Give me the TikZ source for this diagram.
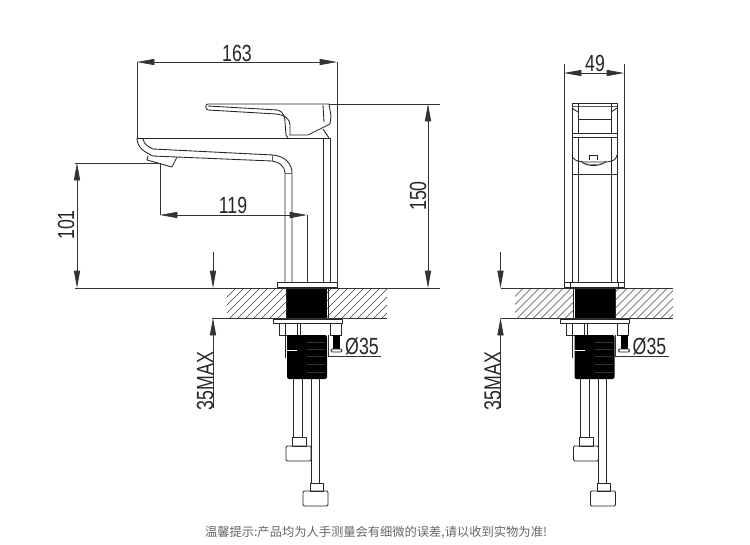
\documentclass[tikz,border=0pt]{standalone}
\usepackage{fontspec}
\usepackage{xcolor}
\usetikzlibrary{arrows.meta, calc}
\newfontfamily\dimfont[FakeStretch=0.76]{Liberation Sans}
\newfontfamily\cjkfont{Noto Sans CJK SC}
\tikzset{
  part/.style={line width=0.65pt, draw=black!85, line join=round},
  thin part/.style={line width=0.4pt, draw=black!65},
  dimline/.style={line width=0.5pt, draw=black!80},
  dim both/.style={dimline, {Triangle[length=13pt,width=4.6pt]}-{Triangle[length=13pt,width=4.6pt]}},
  dim end/.style={dimline, -{Triangle[length=13pt,width=4.6pt]}},
  dimtext/.style={font=\dimfont\fontsize{17.5}{18}\selectfont, inner sep=0pt, text=black!85},
  hatchline/.style={line width=0.4pt, draw=black!75},
}
\begin{document}
\begin{tikzpicture}[x=0.75pt, y=-0.75pt]
  \useasboundingbox (0,0) rectangle (750,544);

  % mounting parts, same for both views
  \foreach \dx/\leftend/\rightend in {0/227/387, 287.5/227.5/385.5} {
    \begin{scope}[shift={(\dx,0)}]
      \begin{scope}
        \clip (\leftend,288) rectangle (286,318) (327,288) rectangle (\rightend,318);
        \foreach \hx in {190,198,...,390}
          \draw[hatchline] (\hx,318) -- (\hx+30,288);
      \end{scope}
      \draw[part] (286,288) -- (286,318) (328,288) -- (328,318);
      \fill[black] (287,288) rectangle (327,318);
      \draw[part, fill=white] (273,319) rectangle (342,323);
      \draw[part] (279,323) -- (279,335) -- (300,335) -- (300,323);
      \draw[part] (285,323) -- (285,358);
      \draw[part] (297,323) -- (297,335);
      \draw[part] (330,323) -- (330,335) -- (341,335) -- (341,323);
      \fill[black, rounded corners=1.5pt] (287,335) -- (327,335) -- (327,379) -- (287,379) -- cycle;
      \foreach \sy in {342,349,356,364,372}
        \draw[white, opacity=0.2, line width=0.3pt] (307,\sy) -- (325,\sy);
      \draw[white, line width=0.5pt] (287,350) -- (297,350);
      \fill[black] (333,335) rectangle (340,349);
      \draw[part, fill=white, rounded corners=1pt] (331,349) rectangle (342,352);
      \draw[part] (293,379) -- (293,437) (302,379) -- (302,437);
      \draw[part] (311,379) -- (311,483) (319,379) -- (319,483);
      \draw[part] (292,437) rectangle (306,446);
      \draw[part, rounded corners=1pt] (286,446) rectangle (311,461);
      \draw[part] (310,483) rectangle (323,491);
      \draw[part, rounded corners=1pt] (303,491) rectangle (328,506);
      \draw[dimline] (328,335) -- (328,356) -- (381,356);
      \node[dimtext] (dia\dx) at (362,346) {Ø35};
    \end{scope}
  }

  % side view, body and spout
  \draw[part] (137,138) -- (330,138);
  \draw[part] (137,138) .. controls (137,146) and (142,151) .. (153,156);
  \draw[part] (143,139) .. controls (144,144) and (148,147) .. (153,149);
  \draw[part] (153,149) -- (273,155) .. controls (284,156) and (292,163) .. (292,173) -- (292,282);
  \draw[part] (153,156) -- (272,161) .. controls (279,162) and (285,166) .. (285,173) -- (285,282);
  \draw[thin part] (272,155) -- (272,161) (285,173) -- (292,173);
  \draw[part] (148,156) -- (147,160) -- (172,167) -- (177,157);
  \draw[part] (323,138) -- (323,282) (330,138) -- (330,282);
  \draw[part] (277,282) rectangle (337,287);
  % side view, lever
  \draw[part] (329,104) -- (208,104) .. controls (205,104) and (205,109) .. (208,110)
    -- (276,114) .. controls (285,115) and (290,119) .. (290,125) -- (290,135) -- (308,135)
    -- (330,124) -- (331,116) -- (329,104);
  \draw[part] (208,106) -- (278,110) .. controls (284,112) and (285,118) .. (285,122) -- (286,135) -- (288,138);
  \draw[part] (323,105) -- (324,122);
  \draw[part] (323,129) -- (329,138);

  % front view
  \draw[part] (572,103) rectangle (617,133);
  \draw[thin part] (572,106) -- (617,106);
  \draw[part] (578,104) -- (578,133) (611,104) -- (611,133);
  \draw[part] (572,108) .. controls (574,110) and (577,111) .. (578,112)
    (617,108) .. controls (615,110) and (612,111) .. (611,112);
  \draw[part] (578,119) -- (611,119);
  \draw[part] (572,137) -- (617,137);
  \draw[part] (572,133) -- (572,282) (617,133) -- (617,282);
  \draw[part] (578,137) -- (578,282) (611,137) -- (611,282);
  \draw[part] (572,155) .. controls (573,160) and (576,161) .. (583,162) -- (607,162)
    .. controls (613,161) and (616,160) .. (617,155);
  \draw[part] (589,160) -- (589,155) -- (597,155) -- (597,160);
  \draw[part] (581,161) .. controls (585,167) and (602,167) .. (606,161);
  \draw[thin part] (584,163) .. controls (588,165) and (600,165) .. (603,163);
  \draw[part] (572,174) -- (617,174);
  \draw[part] (564,282) rectangle (624,287);
  \draw[part] (570,282) -- (570,287) (618,282) -- (618,287);

  % dimensions, side view
  \coordinate (widthL) at (137,62);
  \coordinate (widthR) at (337,62);
  \draw[dim both] (widthL) -- (widthR);
  \node[dimtext] (w163) at (237,53) {163};
  \draw[dimline] (widthL) -- (137,138);
  \draw[dimline] (widthR) -- (337,282);

  \coordinate (heightT) at (428,104);
  \coordinate (heightB) at (428,288);
  \draw[dim both] (heightT) -- (heightB);
  \node[dimtext, rotate=90] (h150) at (418,196) {150};
  \draw[dimline] (329,104) -- (440,104);

  \coordinate (outletT) at (77,163);
  \coordinate (outletB) at (77,288);
  \draw[dim both] (outletT) -- (outletB);
  \node[dimtext, rotate=90] (h101) at (66,225) {101};
  \draw[dimline] (75,163) -- (160,163);
  \draw[dimline] (75,288) -- (440,288);
  \draw[dimline] (212,318) -- (387,318);

  \coordinate (reachL) at (160,215);
  \coordinate (reachR) at (307,215);
  \draw[dim both] (reachL) -- (reachR);
  \node[dimtext] (r119) at (233,205) {119};
  \draw[dimline] (160,163) -- (reachL);
  \draw[dimline] (reachR) -- (307,282);

  \coordinate (deckT) at (213,288);
  \coordinate (deckB) at (213,318);
  \draw[dim end] (213,252) -- (deckT);
  \draw[dim end] (213,408) -- (deckB);
  \node[dimtext, rotate=90] (max1) at (205,381) {35MAX};

  % dimensions, front view
  \coordinate (frontL) at (564,73);
  \coordinate (frontR) at (624,73);
  \draw[dim both] (frontL) -- (frontR);
  \node[dimtext] (w49) at (595,63) {49};
  \draw[dimline] (564,64) -- (564,282);
  \draw[dimline] (624,64) -- (624,282);

  \coordinate (deckT2) at (500.5,288);
  \coordinate (deckB2) at (500.5,318);
  \draw[dim end] (500.5,252) -- (deckT2);
  \draw[dim end] (500.5,408) -- (deckB2);
  \draw[dimline] (500.5,288) -- (673,288);
  \draw[dimline] (500.5,318) -- (673,318);
  \node[dimtext, rotate=90] (max2) at (492.5,381) {35MAX};

  % note
  \node[font=\cjkfont\fontsize{9.2}{11}\selectfont, text=black!60, inner sep=0pt] (note) at (376,532)
    {温馨提示:产品均为人手测量会有细微的误差,请以收到实物为准!};
\end{tikzpicture}
\end{document}
